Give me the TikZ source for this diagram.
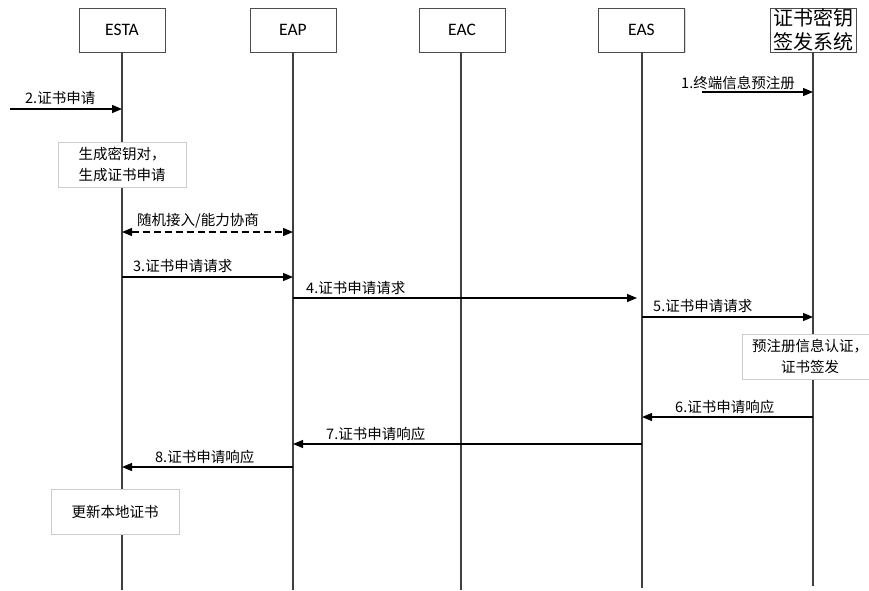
\documentclass[tikz,border=0pt]{standalone}
\usepackage{fontspec}
\setmainfont{Carlito}
\newfontfamily\cjk{Noto Sans CJK SC}
\usetikzlibrary{arrows.meta,shadows}

\begin{document}
\begin{tikzpicture}[x=1pt,y=-1pt,
  hdr/.style={draw=black!70, line width=0.8pt, fill=white,
    minimum width=86pt, minimum height=44pt, inner sep=0pt,
    font=\fontsize{17.5}{20}\selectfont,
    drop shadow={shadow xshift=1.2pt, shadow yshift=-1.2pt, fill=blue!20!gray!40, opacity=0.6}},
  note/.style={draw=black!20, line width=0.8pt, fill=white,
    minimum height=45pt, inner sep=0pt, align=center,
    font=\cjk\fontsize{14.5}{20.5}\selectfont,
    drop shadow={shadow xshift=1.2pt, shadow yshift=-1.2pt, fill=blue!20!gray!40, opacity=0.6}},
  life/.style={line width=1.5pt, draw=black!75},
  msg/.style={line width=1.2pt, -{Triangle[length=10pt,width=8pt]}},
  lbl/.style={anchor=west, inner sep=0pt, font=\cjk\fontsize{14.5}{17}\selectfont}]
\useasboundingbox (0,0) rectangle (869,590);

% participants
\node[hdr] (esta) at (122,30) {ESTA};
\node[hdr] (eap) at (293,30) {EAP};
\node[hdr] (eac) at (462,30) {EAC};
\node[hdr] (eas) at (641.5,30) {EAS};
\node[hdr, font=\cjk\fontsize{20}{24.5}\selectfont, align=center] (cks) at (813,30) {证书密钥\\签发系统};

% lifeline ends
\coordinate (estaE) at (122,590);
\coordinate (eapE) at (293,590);
\coordinate (eacE) at (461,590);
\coordinate (easE) at (642,588);
\coordinate (cksE) at (813,586);

\draw[life] (esta.south) -- (estaE);
\draw[life] (eap.south) -- (eapE);
\draw[life] (eac.south -| eacE) -- (eacE);
\draw[life] (eas.south -| easE) -- (easE);
\draw[life] (cks.south) -- (cksE);

% message heights
\coordinate (m1) at (702,92);
\coordinate (m2) at (10,109);
\coordinate (mr) at (0,232);
\coordinate (m3) at (0,277);
\coordinate (m4) at (0,298);
\coordinate (m5) at (0,317);
\coordinate (m6) at (0,417);
\coordinate (m7) at (0,444);
\coordinate (m8) at (0,467);

% messages
\draw[msg] (m1) -- (cks |- m1);
\node[lbl] (l1) at (681,83) {1.终端信息预注册};

\draw[msg] (m2) -- (esta |- m2);
\node[lbl] (l2) at (25,98) {2.证书申请};

\draw[msg, {Triangle[length=10pt,width=8pt]}-{Triangle[length=10pt,width=8pt]}, dash pattern=on 7pt off 4pt]
  (esta |- mr) -- (eap |- mr);
\node[lbl] (lr) at (137,221) {随机接入/能力协商};

\draw[msg] (esta |- m3) -- (eap |- m3);
\node[lbl] (l3) at (133,266) {3.证书申请请求};

\draw[msg, shorten >=5pt] (eap |- m4) -- (easE |- m4);
\node[lbl] (l4) at (306,288) {4.证书申请请求};

\draw[msg] (easE |- m5) -- (cks |- m5);
\node[lbl] (l5) at (653,306) {5.证书申请请求};

\draw[msg] (cks |- m6) -- (easE |- m6);
\node[lbl] (l6) at (675,407) {6.证书申请响应};

\draw[msg] (easE |- m7) -- (eap |- m7);
\node[lbl] (l7) at (326,434) {7.证书申请响应};

\draw[msg] (eap |- m8) -- (esta |- m8);
\node[lbl] (l8) at (155,457) {8.证书申请响应};

% local actions
\node[note, minimum width=128pt] (gen) at (122,164.5) {生成密钥对，\\生成证书申请};
\node[note, minimum width=136pt] (auth) at (810,356.5) {预注册信息认证，\\证书签发};
\node[note, minimum width=128pt] (upd) at (115,511.5) {更新本地证书};
\end{tikzpicture}
\end{document}
